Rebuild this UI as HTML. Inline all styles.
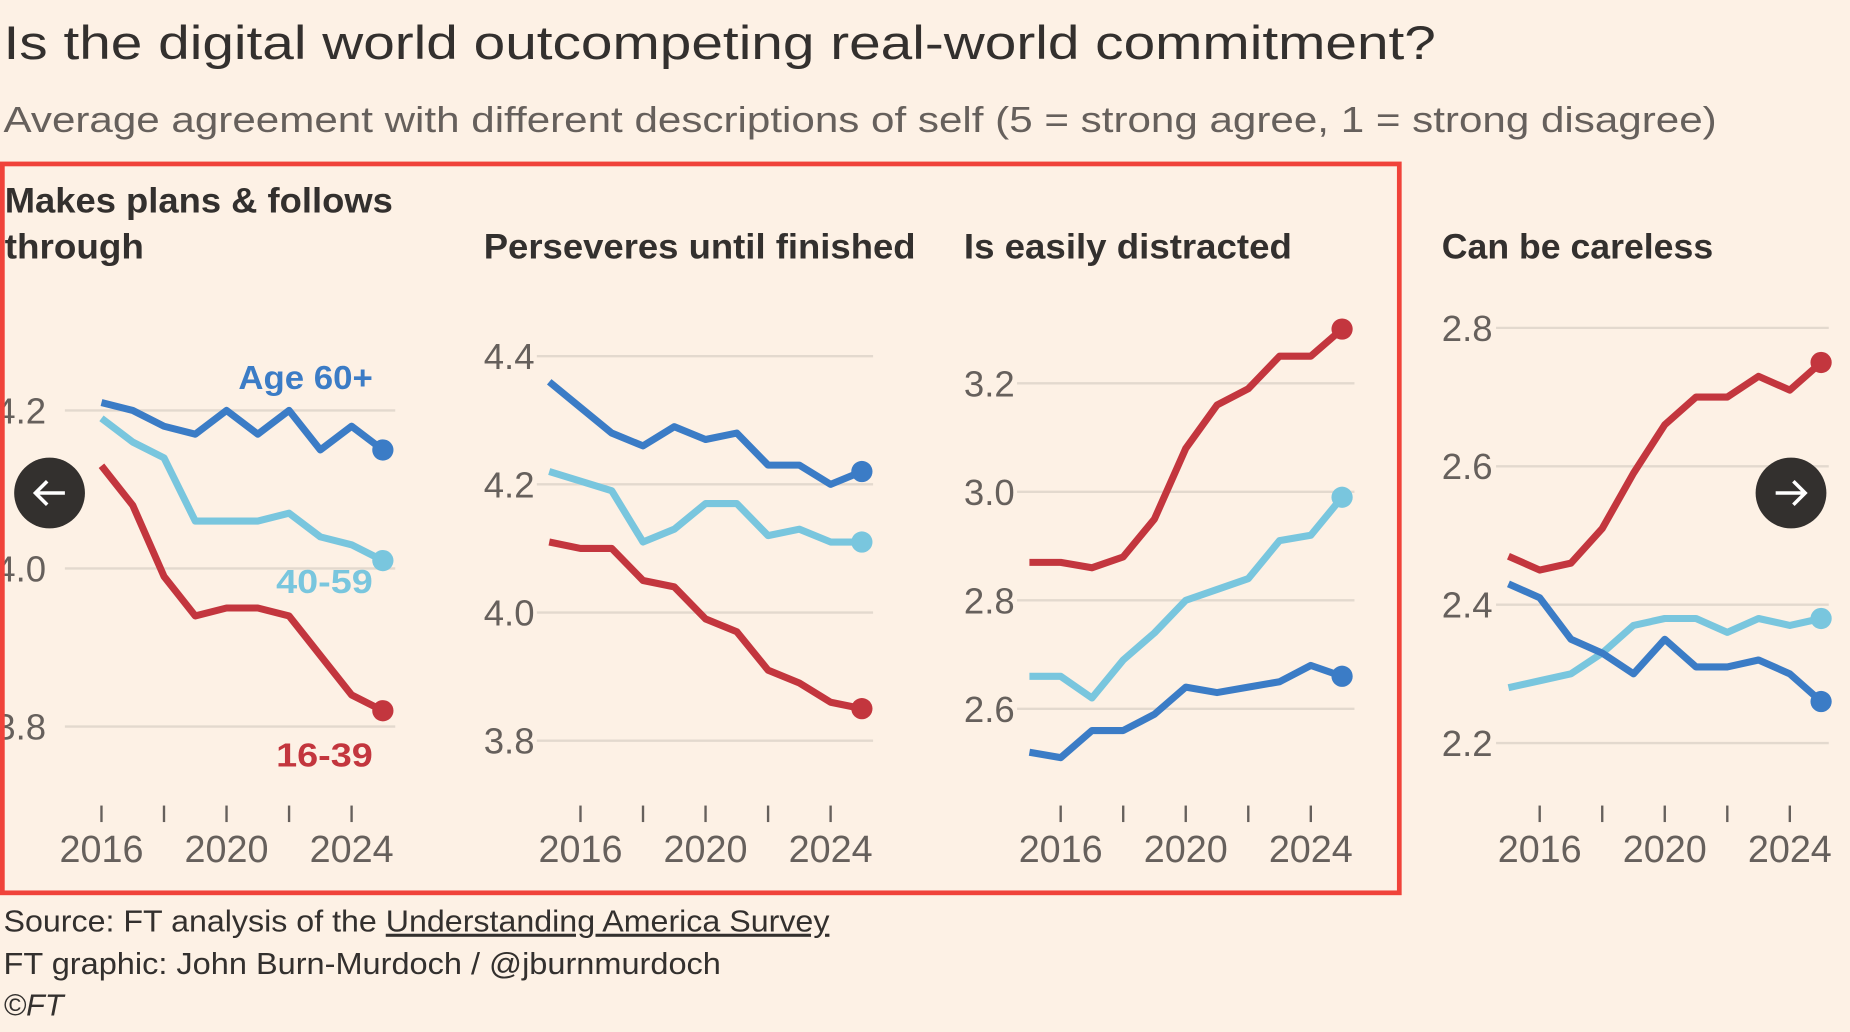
<!DOCTYPE html>
<html><head><meta charset="utf-8"><style>
html,body{margin:0;padding:0;background:#fdf1e5;}
svg{display:block;font-family:"Liberation Sans",sans-serif;}
</style></head><body>
<svg id="chart" width="1850" height="1032" viewBox="0 0 1568 875" preserveAspectRatio="none" xmlns="http://www.w3.org/2000/svg">
<rect x="0" y="0" width="1568" height="875" fill="#fdf1e5"/>
<text x="3" y="50" font-size="40" fill="#33302e" textLength="1214" lengthAdjust="spacingAndGlyphs">Is the digital world outcompeting real-world commitment?</text>
<text x="3" y="112" font-size="31" fill="#66605c" textLength="1452" lengthAdjust="spacingAndGlyphs">Average agreement with different descriptions of self (5 = strong agree, 1 = strong disagree)</text>
<g id="panels"></g>
<rect x="2" y="139" width="1184" height="618" fill="none" stroke="#f0433a" stroke-width="4"/>
<g><circle cx="42" cy="418" r="30" fill="#33302e"/><path d="M55 418 H30 M40 408 L30 418 L40 428" stroke="#fff" stroke-width="3" fill="none"/></g>
<g><circle cx="1518" cy="418" r="30" fill="#33302e"/><path d="M505 418 H530 M520 408 L530 418 L520 428" transform="translate(1000,0)" stroke="#fff" stroke-width="3" fill="none"/></g>
<text x="3" y="790" font-size="26" fill="#33302e" textLength="700" lengthAdjust="spacingAndGlyphs">Source: FT analysis of the <tspan text-decoration="underline">Understanding America Survey</tspan></text>
<text x="3" y="826" font-size="26" fill="#33302e" textLength="608" lengthAdjust="spacingAndGlyphs">FT graphic: John Burn-Murdoch / @jburnmurdoch</text>
<text x="3" y="861" font-size="26" fill="#33302e" font-style="italic">©FT</text>
</svg>
<script>
const NS="http://www.w3.org/2000/svg";
const COLORS={old:"#3b7cc6",mid:"#79c6de",young:"#c3363e"};
const xTickYears=[2016,2018,2020,2022,2024];
const xTickLabels=["2016","2020","2024"];
// Panel 1: Makes plans & follows through (2016-2025)
const p1Years=[2016,2017,2018,2019,2020,2021,2022,2023,2024,2025];
const p1Old=[4.21,4.20,4.18,4.17,4.20,4.17,4.20,4.15,4.18,4.15];
const p1Mid=[4.19,4.16,4.14,4.06,4.06,4.06,4.07,4.04,4.03,4.01];
const p1Young=[4.13,4.08,3.99,3.94,3.95,3.95,3.94,3.89,3.84,3.82];
const p1Ticks=[4.2,4.0,3.8];
// Panel 2: Perseveres until finished (2015-2025)
const pYears=[2015,2016,2017,2018,2019,2020,2021,2022,2023,2024,2025];
const p2Old=[4.36,4.32,4.28,4.26,4.29,4.27,4.28,4.23,4.23,4.20,4.22];
const p2Mid=[4.22,4.205,4.19,4.11,4.13,4.17,4.17,4.12,4.13,4.11,4.11];
const p2Young=[4.11,4.10,4.10,4.05,4.04,3.99,3.97,3.91,3.89,3.86,3.85];
const p2Ticks=[4.4,4.2,4.0,3.8];
// Panel 3: Is easily distracted
const p3Old=[2.52,2.51,2.56,2.56,2.59,2.64,2.63,2.64,2.65,2.68,2.66];
const p3Mid=[2.66,2.66,2.62,2.69,2.74,2.80,2.82,2.84,2.91,2.92,2.99];
const p3Young=[2.87,2.87,2.86,2.88,2.95,3.08,3.16,3.19,3.25,3.25,3.30];
const p3Ticks=[3.2,3.0,2.8,2.6];
// Panel 4: Can be careless
const p4Old=[2.43,2.41,2.35,2.33,2.30,2.35,2.31,2.31,2.32,2.30,2.26];
const p4Mid=[2.28,2.29,2.30,2.33,2.37,2.38,2.38,2.36,2.38,2.37,2.38];
const p4Young=[2.47,2.45,2.46,2.51,2.59,2.66,2.70,2.70,2.73,2.71,2.75];
const p4Ticks=[2.8,2.6,2.4,2.2];

const panels=[
 {name:"makes-plans",title:["Makes plans & follows","through"],tw:[329,118],x2016:86,yRef:[4.2,348,4.0,482],gx:[55,335],lx:-4,years:p1Years,series:[["young",p1Young],["mid",p1Mid],["old",p1Old]],ticks:p1Ticks},
 {name:"perseveres",title:["Perseveres until finished"],tw:[366],x2016:492,yRef:[4.4,302,3.8,628],gx:[455,740],lx:410,years:pYears,series:[["young",p2Young],["mid",p2Mid],["old",p2Old]],ticks:p2Ticks},
 {name:"easily-distracted",title:["Is easily distracted"],tw:[278],x2016:899,yRef:[3.2,325,2.6,601],gx:[862,1148],lx:817,years:pYears,series:[["old",p3Old],["mid",p3Mid],["young",p3Young]],ticks:p3Ticks},
 {name:"careless",title:["Can be careless"],tw:[230],x2016:1305,yRef:[2.8,278,2.2,630],gx:[1268,1550],lx:1222,years:pYears,series:[["young",p4Young],["mid",p4Mid],["old",p4Old]],ticks:p4Ticks}
];
const root=document.getElementById("panels");
function mk(tag,attrs,parent){const e=document.createElementNS(NS,tag);for(const k in attrs)e.setAttribute(k,attrs[k]);parent.appendChild(e);return e;}
panels.forEach(p=>{
 const g=mk("g",{},root);
 
 
 const xs=y=>p.x2016+(y-2016)*26.5;
 const [v1,py1,v2,py2]=p.yRef;
 const ys=v=>py1+(v-v1)*(py2-py1)/(v2-v1);
 const titleY=p.title.length>1?180:219;
 p.title.forEach((t,i)=>{
  const tt=mk("text",{x:p.lx<0?4:p.lx,y:titleY+i*39,"font-size":30,"font-weight":"bold",fill:"#33302e",textLength:p.tw[i],lengthAdjust:"spacingAndGlyphs"},g);
  
  
  tt.textContent=t;
 });
 p.ticks.forEach(v=>{
  const l=mk("line",{x1:p.gx[0],x2:p.gx[1],y1:ys(v),y2:ys(v),stroke:"#e3d9ce","stroke-width":2},g);
  
  
  const t=mk("text",{x:p.lx,y:ys(v)+11,"font-size":31,fill:"#66605c"},g);
  
  
  t.textContent=v.toFixed(1);
 });
 xTickYears.forEach(y=>{
  const l=mk("line",{x1:xs(y),x2:xs(y),y1:683,y2:697,stroke:"#66605c","stroke-width":2},g);
  
  
 });
 xTickLabels.forEach(s=>{
  const t=mk("text",{x:xs(+s),y:731,"font-size":32,fill:"#66605c","text-anchor":"middle"},g);
  
  
  t.textContent=s;
 });
 p.series.forEach(([k,vals])=>{
  const d=vals.map((v,i)=>(i?"L":"M")+xs(p.years[i])+" "+ys(v)).join(" ");
  const path=mk("path",{d:d,fill:"none",stroke:COLORS[k],"stroke-width":6,"stroke-linejoin":"round"},g);
  
  
  const n=vals.length-1;
  const c=mk("circle",{cx:xs(p.years[n]),cy:ys(vals[n]),r:9,fill:COLORS[k]},g);
  
  
 });
});
const labels=[["Age 60+","old",330,114],["40-59","mid",503,82],["16-39","young",650,82]];
labels.forEach(([t,k,y,w])=>{
 const e=mk("text",{x:316-w,y:y,"font-size":28,"font-weight":"bold",fill:COLORS[k],textLength:w,lengthAdjust:"spacingAndGlyphs"},root);
 
 
 e.textContent=t;
});
</script>
</body></html>
